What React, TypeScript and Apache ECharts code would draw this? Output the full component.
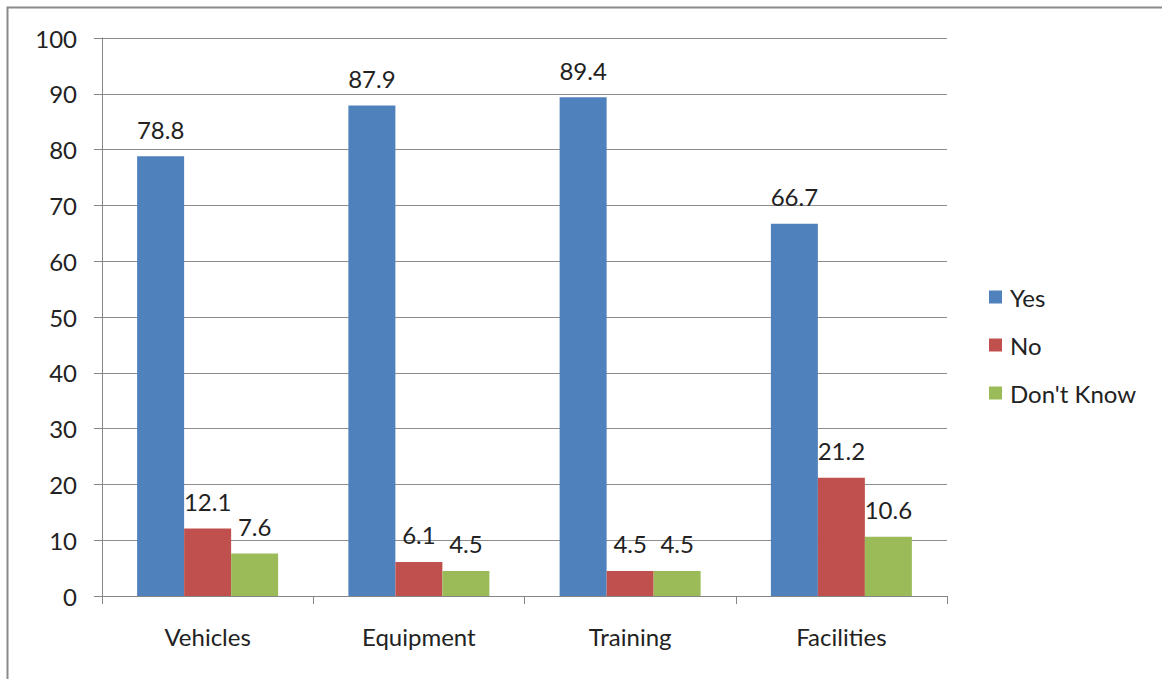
import React, { useEffect, useRef } from "react";
import * as echarts from "echarts";

const categories = ["Vehicles", "Equipment", "Training", "Facilities"];
const yesValues = [78.8, 87.9, 89.4, 66.7];
const noValues = [12.1, 6.1, 4.5, 21.2];
const dontKnowValues = [7.6, 4.5, 4.5, 10.6];
const seriesNames = ["Yes", "No", "Don't Know"];
const colors = ["#4F81BD", "#C0504D", "#9BBB59"];

const FONT = "Lato, 'Open Sans', sans-serif";
const FS = 24;

export default function App() {
  const ref = useRef<HTMLDivElement>(null);
  useEffect(() => {
    if (!ref.current) return;
    const chart = echarts.init(ref.current, null, { renderer: "svg" });
    const dataSets = [yesValues, noValues, dontKnowValues];
    chart.setOption({
      animation: false,
      textStyle: { fontFamily: FONT },
      graphic: [
        {
          type: "rect",
          shape: { x: 7.5, y: 7.5, width: 1200, height: 700 },
          style: { fill: "none", stroke: "#8a8a8a", lineWidth: 2 },
          silent: true,
        },
      ],
      grid: { left: 102, right: 215, top: 38, bottom: 83, containLabel: false },
      legend: {
        orient: "vertical",
        left: 984,
        top: 280,
        icon: "rect",
        itemWidth: 13,
        itemHeight: 13,
        itemGap: 24,
        textStyle: {
          fontFamily: FONT,
          fontSize: FS,
          color: "#222",
          lineHeight: 24,
          padding: [0, 0, 0, 3],
        },
        data: seriesNames,
      },
      xAxis: {
        type: "category",
        data: categories,
        axisLine: { lineStyle: { color: "#868686", width: 1 } },
        axisTick: { show: true, length: 8, lineStyle: { color: "#868686" } },
        axisLabel: { margin: 28, fontSize: FS, color: "#222", fontFamily: FONT },
      },
      yAxis: {
        type: "value",
        min: 0,
        max: 100,
        interval: 10,
        axisLine: { show: true, lineStyle: { color: "#868686", width: 1 } },
        axisTick: { show: true, length: 8, lineStyle: { color: "#868686" } },
        axisLabel: { margin: 25, fontSize: FS, color: "#222", fontFamily: FONT },
        splitLine: { show: true, lineStyle: { color: "#8c8c8c", width: 1 } },
      },
      series: seriesNames.map((name, i) => ({
        name,
        type: "bar",
        data: dataSets[i],
        barWidth: 47,
        barGap: "0%",
        itemStyle: { color: colors[i] },
        label: {
          show: true,
          position: "top",
          distance: 15,
          fontSize: FS,
          color: "#222",
          fontFamily: FONT,
        },
      })),
    });
    return () => chart.dispose();
  }, []);
  return (
    <div
      ref={ref}
      style={{ position: "fixed", left: 0, top: 0, width: 1162, height: 679, background: "#fff" }}
    />
  );
}
